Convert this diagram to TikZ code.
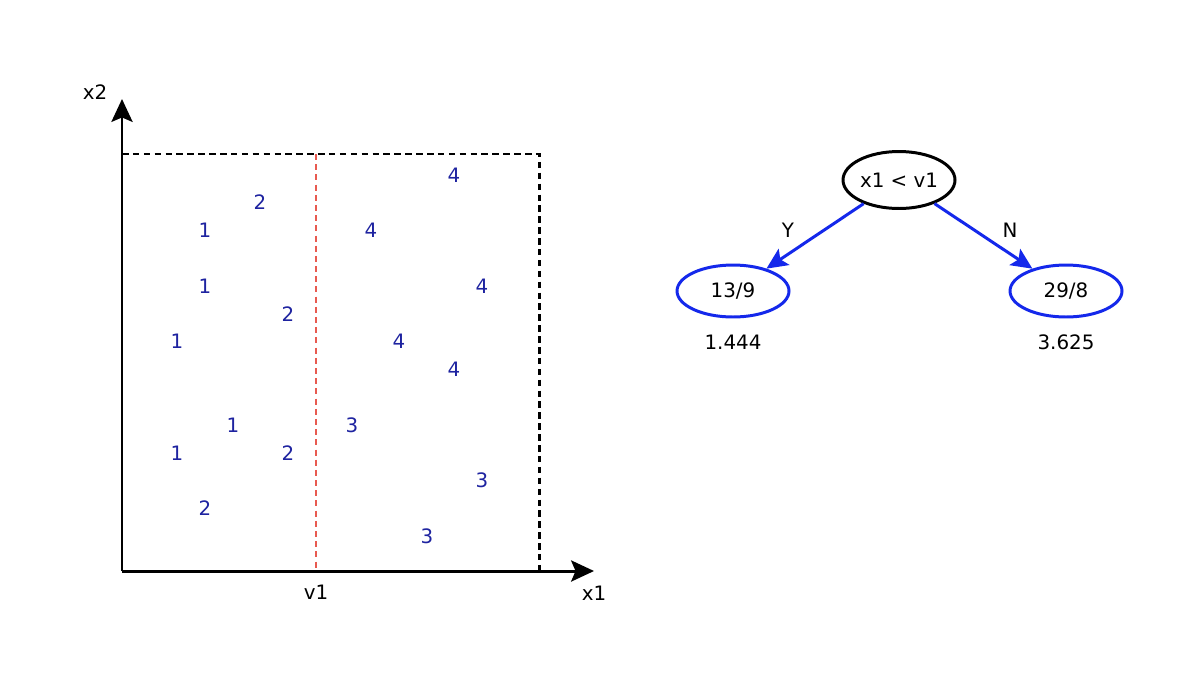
\documentclass[tikz,border=0pt]{standalone}
\usepackage{fontspec}
\setmainfont{DejaVu Sans}
\usetikzlibrary{arrows.meta,shapes.geometric}
\definecolor{ptblue}{RGB}{30,35,160}
\definecolor{edgeblue}{RGB}{20,40,235}
\definecolor{splitred}{RGB}{232,90,80}
\tikzset{
  axis/.style={line width=1.7pt,-{Stealth[length=13pt,width=12pt,inset=2.5pt]}},
  boxline/.style={line width=1.7pt,dash pattern=on 3.7pt off 2.5pt},
  splitline/.style={splitred,line width=0.7pt,dash pattern=on 3.4pt off 2.4pt},
  pt/.style={text=ptblue,font=\fontsize{11.3}{13}\selectfont},
  lbl/.style={font=\fontsize{11.3}{13}\selectfont},
  test/.style={ellipse,draw,line width=1.7pt,minimum width=2.24cm,minimum height=1.14cm,inner sep=0pt,font=\fontsize{11.3}{13}\selectfont},
  leaf/.style={test,draw=edgeblue,minimum height=1.04cm},
  branch/.style={edgeblue,line width=1.7pt,-{Stealth[length=12pt,width=11pt,inset=2.5pt]}}
}
\begin{document}
\begin{tikzpicture}[x=0.02cm,y=-0.02cm]
\useasboundingbox[fill=white] (0,0) rectangle (1200,687);

% feature space
\coordinate (o) at (122,571);
\coordinate (xend) at (594,571);
\coordinate (yend) at (122,99);
\draw[boxline] (122,154) -- (539,154) -- (539,571);
\draw[splitline] (316,154) -- (316,571);
\draw[axis] (o) -- (xend);
\draw[axis] (o) -- (yend);
\node[lbl] (x1lab) at (594,593) {x1};
\node[lbl] (x2lab) at (95,92) {x2};
\node[lbl] (v1lab) at (316,592) {v1};

% points left of v1
\node[pt] (a1) at (260,202) {2};
\node[pt] (a2) at (205,230) {1};
\node[pt] (a3) at (205,286) {1};
\node[pt] (a4) at (288,314) {2};
\node[pt] (a5) at (177,341) {1};
\node[pt] (a6) at (233,425) {1};
\node[pt] (a7) at (177,453) {1};
\node[pt] (a8) at (288,453) {2};
\node[pt] (a9) at (205,508) {2};
% points right of v1
\node[pt] (b1) at (454,175) {4};
\node[pt] (b2) at (371,230) {4};
\node[pt] (b3) at (482,286) {4};
\node[pt] (b4) at (399,341) {4};
\node[pt] (b5) at (454,369) {4};
\node[pt] (b6) at (352,425) {3};
\node[pt] (b7) at (482,480) {3};
\node[pt] (b8) at (427,536) {3};

% tree
\node[test] (root) at (899,180) {x1 < v1};
\node[leaf] (yes) at (733,291) {13/9};
\node[leaf] (no) at (1066,291) {29/8};
\draw[branch] (root) -- (yes);
\draw[branch] (root) -- (no);
\node[lbl] (ylab) at (788,230) {Y};
\node[lbl] (nlab) at (1010,230) {N};
\node[lbl] (yval) at (733,342) {1.444};
\node[lbl] (nval) at (1066,342) {3.625};
\end{tikzpicture}
\end{document}
